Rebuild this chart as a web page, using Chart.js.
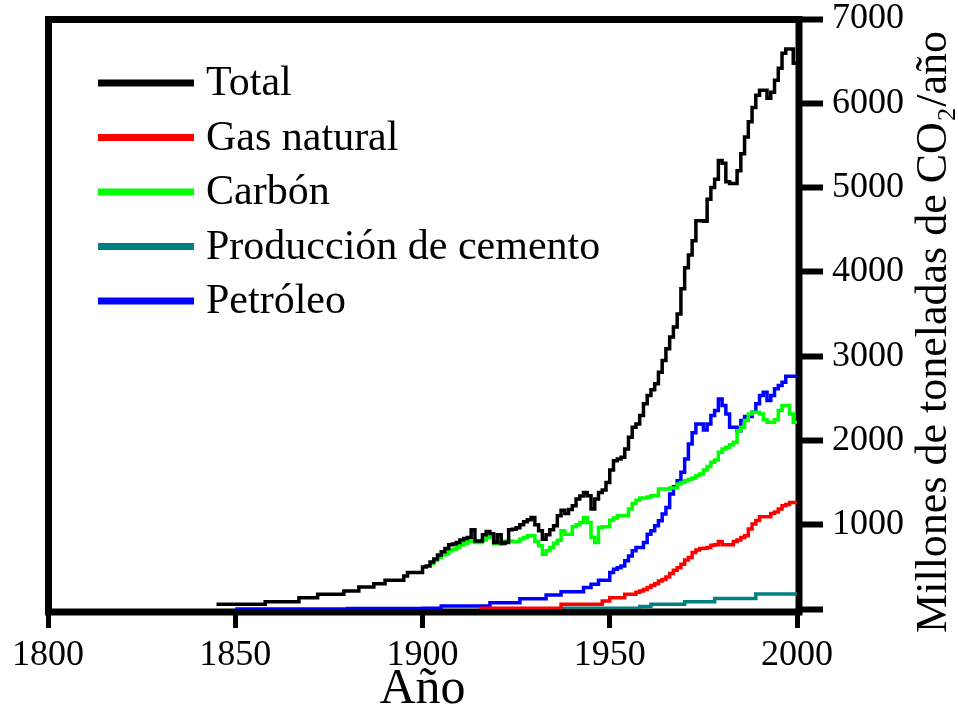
<!DOCTYPE html>
<html>
<head>
<meta charset="utf-8">
<script src="https://cdn.jsdelivr.net/npm/chart.js@4.4.1/dist/chart.umd.min.js"></script>
<style>
  html, body { margin: 0; padding: 0; background: #fff; }
  #wrap { width: 958px; height: 715px; }
</style>
</head>
<body>
<div id="wrap"><canvas id="chart-co2" width="958" height="715"></canvas></div>
<script>
// Emisiones globales de CO2 por tipo
const years = [
  1845,1846,1847,1848,1849,1850,1851,1852,1853,1854,1855,1856,1857,1858,1859,
  1860,1861,1862,1863,1864,1865,1866,1867,1868,1869,1870,1871,1872,1873,1874,
  1875,1876,1877,1878,1879,1880,1881,1882,1883,1884,1885,1886,1887,1888,1889,
  1890,1891,1892,1893,1894,1895,1896,1897,1898,1899,1900,1901,1902,1903,1904,
  1905,1906,1907,1908,1909,1910,1911,1912,1913,1914,1915,1916,1917,1918,1919,
  1920,1921,1922,1923,1924,1925,1926,1927,1928,1929,1930,1931,1932,1933,1934,
  1935,1936,1937,1938,1939,1940,1941,1942,1943,1944,1945,1946,1947,1948,1949,
  1950,1951,1952,1953,1954,1955,1956,1957,1958,1959,1960,1961,1962,1963,1964,
  1965,1966,1967,1968,1969,1970,1971,1972,1973,1974,1975,1976,1977,1978,1979,
  1980,1981,1982,1983,1984,1985,1986,1987,1988,1989,1990,1991,1992,1993,1994,
  1995,1996,1997,1998,1999,2000
];

const total = [
  56,56,56,56,56,56,56,56,56,56,56,56,56,87,87,
  87,87,87,87,87,87,87,134,134,134,134,134,175,175,175,
  175,175,175,175,214,214,214,214,262,262,262,262,301,301,301,
  341,341,341,341,341,392,432,432,432,432,499,510,559,594,642,
  678,717,761,770,788,820,835,848,939,808,808,880,919,892,788,
  880,777,790,939,945,963,999,1034,1060,1086,1000,927,829,880,940,
  987,1106,1173,1133,1180,1225,1304,1340,1383,1344,1185,1304,1383,1411,1502,
  1649,1760,1780,1799,1899,2037,2156,2196,2295,2434,2533,2600,2672,2810,2949,
  3088,3226,3345,3500,3800,4050,4200,4370,4607,4607,4600,4860,5000,5100,5321,
  5290,5070,5048,5048,5200,5400,5600,5780,5950,6095,6155,6155,6060,6131,6274,
  6417,6595,6643,6643,6476,6476
];

const gasNatural = [
  null,null,null,null,null,null,null,null,null,null,null,null,null,null,null,
  null,null,null,null,null,null,null,null,null,null,null,null,null,null,null,
  null,null,null,null,null,null,null,null,null,null,null,null,null,null,null,
  null,null,null,null,null,null,null,null,null,null,null,null,null,null,null,
  null,null,null,null,null,null,null,null,null,null,10,10,10,10,10,
  10,10,10,10,10,10,10,10,10,10,10,10,10,10,10,
  10,10,56,56,56,56,56,56,56,56,56,56,56,95,95,
  134,134,134,134,175,175,175,200,214,230,254,280,301,333,350,
  380,420,460,490,531,580,610,669,700,717,720,729,757,761,800,
  761,761,761,800,820,848,870,948,1007,1050,1094,1094,1094,1133,1150,
  1185,1225,1240,1264,1264,1264
];

const carbon = [
  null,null,null,null,null,null,null,null,null,null,null,null,null,null,null,
  null,null,null,null,null,null,null,null,null,null,null,null,null,null,null,
  null,null,null,null,null,null,null,null,null,null,null,null,null,null,null,
  null,null,null,null,null,null,null,null,null,null,null,null,540,575,610,
  640,654,690,710,729,760,780,800,800,790,790,820,848,848,773,
  773,790,808,808,800,800,830,848,868,868,800,749,650,690,729,
  780,817,927,888,888,975,1000,1026,1086,1026,848,790,967,975,975,
  1054,1080,1106,1106,1106,1185,1252,1290,1316,1316,1330,1344,1344,1423,1423,
  1423,1435,1435,1483,1500,1522,1540,1554,1580,1601,1649,1690,1740,1768,1859,
  1899,1920,1950,1978,2116,2156,2235,2315,2334,2334,2315,2244,2215,2215,2244,
  2354,2414,2414,2315,2215,2215
];

const cemento = [
  null,null,null,null,null,null,null,null,null,null,null,null,null,null,null,
  null,null,null,null,null,null,null,null,null,null,null,null,null,null,null,
  null,null,null,null,null,null,null,null,null,null,null,null,null,null,null,
  null,null,null,null,null,null,null,null,null,null,null,null,null,null,null,
  null,null,null,null,null,null,null,null,null,null,null,null,null,null,null,
  null,null,null,null,null,null,null,null,null,null,null,null,null,null,null,
  null,null,10,10,10,10,10,10,10,10,10,10,10,10,10,
  10,10,10,10,10,10,10,10,30,30,30,56,56,56,56,
  56,56,56,56,56,87,87,87,87,87,87,87,87,125,125,
  125,125,125,125,125,125,125,125,125,178,178,178,178,178,178,
  178,178,178,178,178,178
];

const petroleo = [
  null,null,null,null,null,0,0,0,0,0,0,0,0,0,0,
  0,0,0,0,0,0,0,0,0,0,0,0,0,0,0,
  0,0,0,0,0,5,5,5,5,5,5,5,5,5,5,
  5,5,5,5,5,5,5,5,5,5,10,10,10,10,10,
  36,36,36,36,36,36,36,36,36,36,36,36,36,75,75,
  75,75,75,75,75,75,123,123,123,123,123,123,123,166,166,
  166,166,206,206,206,206,206,206,254,254,293,293,341,341,341,
  432,472,490,511,571,630,690,729,729,789,888,927,987,1046,1126,
  1205,1364,1451,1522,1621,1780,1958,2090,2196,2196,2125,2196,2295,2354,2493,
  2414,2315,2156,2156,2116,2235,2283,2283,2334,2434,2533,2572,2473,2533,2612,
  2652,2691,2760,2760,2760,2760
];

const xTicks = [1800, 1850, 1900, 1950, 2000];
const yTicks = [1000, 2000, 3000, 4000, 5000, 6000, 7000];

const series = [
  { label: 'Total', data: total, color: '#000000' },
  { label: 'Gas natural', data: gasNatural, color: '#ff0000' },
  { label: 'Carbón', data: carbon, color: '#00ff00' },
  { label: 'Producción de cemento', data: cemento, color: '#008080' },
  { label: 'Petróleo', data: petroleo, color: '#0000ff' }
];

const SERIF = '"Liberation Serif", "Times New Roman", serif';
Chart.defaults.font.family = SERIF;
Chart.defaults.color = '#000';

// marco grueso alrededor del área del gráfico
const marco = {
  id: 'marco',
  beforeDatasetsDraw(chart) {
    const { ctx, chartArea: a } = chart;
    ctx.save();
    ctx.strokeStyle = '#000';
    ctx.lineWidth = 7;
    ctx.strokeRect(a.left + 0.5, a.top + 0.5, a.right + 2 - a.left - 0.5, a.bottom + 3 - a.top - 0.5);
    ctx.restore();
  }
};

// leyenda dentro del gráfico + título del eje y (leído de abajo hacia arriba)
const leyenda = {
  id: 'leyenda',
  afterDraw(chart) {
    const ctx = chart.ctx;
    ctx.save();
    ctx.font = '42px ' + SERIF;
    ctx.textAlign = 'left';
    ctx.textBaseline = 'alphabetic';
    chart.data.datasets.forEach((ds, i) => {
      const y = 83 + i * 54.5;
      ctx.strokeStyle = ds.borderColor;
      ctx.lineWidth = 7;
      ctx.beginPath();
      ctx.moveTo(98, y);
      ctx.lineTo(194, y);
      ctx.stroke();
      ctx.fillStyle = '#000';
      ctx.fillText(ds.label, 206, y + 12);
    });
    ctx.translate(946, 332);
    ctx.rotate(-Math.PI / 2);
    ctx.font = '44px ' + SERIF;
    ctx.textAlign = 'center';
    ctx.fillText('Millones de toneladas de CO₂/año', 0, 0);
    ctx.restore();
  }
};

const ctx = document.getElementById('chart-co2').getContext('2d');
new Chart(ctx, {
  type: 'line',
  data: {
    labels: years,
    datasets: series.map(s => ({
      label: s.label,
      data: s.data.map((v, i) => ({ x: years[i], y: v })),
      borderColor: s.color,
      backgroundColor: s.color,
      borderWidth: 3.5,
      stepped: true,
      pointRadius: 0,
      fill: false,
      spanGaps: false
    }))
  },
  options: {
    responsive: false,
    animation: false,
    layout: { padding: { left: 48, top: 19, right: 0, bottom: 0 } },
    plugins: { legend: { display: false }, tooltip: { enabled: false } },
    scales: {
      x: {
        type: 'linear',
        min: 1800,
        max: 2000,
        afterFit: s => { s.height = 106; },
        afterBuildTicks: s => { s.ticks = xTicks.map(v => ({ value: v })); },
        ticks: { font: { size: 36 }, padding: 6, maxRotation: 0, callback: v => String(v) },
        grid: { drawOnChartArea: false, drawTicks: true, tickLength: 19, tickWidth: 5, tickColor: '#000' },
        border: { display: false },
        title: { display: true, text: 'Año', font: { size: 50, lineHeight: 1 }, padding: 0 }
      },
      y: {
        position: 'right',
        min: 0,
        max: 7000,
        afterFit: s => { s.width = 161; },
        afterBuildTicks: s => { s.ticks = [0].concat(yTicks).map(v => ({ value: v })); },
        ticks: { font: { size: 36, lineHeight: 0.5 }, padding: 9, callback: v => (v === 0 ? '' : String(v)) },
        grid: { drawOnChartArea: false, drawTicks: true, tickLength: 26, tickWidth: 6, tickColor: '#000' },
        border: { display: false }
      }
    }
  },
  plugins: [marco, leyenda]
});
</script>
</body>
</html>
